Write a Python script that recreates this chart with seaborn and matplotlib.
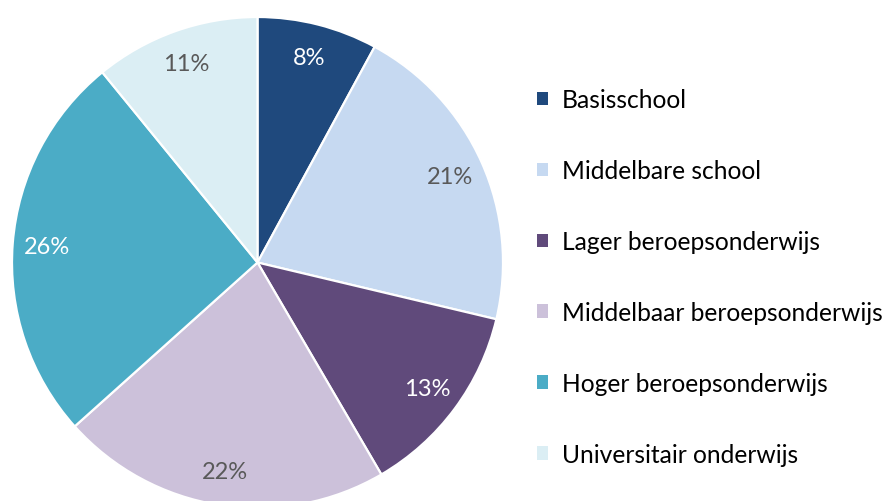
import numpy as np
import matplotlib
matplotlib.use("Agg")
import matplotlib.pyplot as plt
from matplotlib.patches import Patch
import seaborn as sns

# Education level shares (percent)
categories = [
    "Basisschool",
    "Middelbare school",
    "Lager beroepsonderwijs",
    "Middelbaar beroepsonderwijs",
    "Hoger beroepsonderwijs",
    "Universitair onderwijs",
]
shares = [8, 21, 13, 22, 26, 11]

colors = ["#1F497D", "#C6D9F1", "#604A7B", "#CCC1DA", "#4BACC6", "#DBEEF4"]
label_colors = ["white", "#595959", "white", "#595959", "white", "#595959"]

sns.set_theme(style="white")
plt.rcParams["font.family"] = ["Lato", "DejaVu Sans"]

W, H = 890, 502
fig = plt.figure(figsize=(W / 100, H / 100), dpi=100)
fig.patch.set_facecolor("white")

# Pie axes: square box in pixel space
cx, cy, r = 257.5, 263.5, 245.5
ax = fig.add_axes([(cx - r) / W, (H - cy - r) / H, 2 * r / W, 2 * r / H])
wedges, _ = ax.pie(
    shares,
    colors=colors,
    startangle=90,
    counterclock=False,
    radius=1.0,
    wedgeprops=dict(edgecolor="white", linewidth=1.6),
)
ax.set_xlim(-1, 1)
ax.set_ylim(-1, 1)
ax.set_aspect("equal")
ax.axis("off")

# Percentage labels inside each wedge
for w, v, tc in zip(wedges, shares, label_colors):
    mid = np.deg2rad((w.theta1 + w.theta2) / 2)
    d = 0.86
    ax.text(d * np.cos(mid), d * np.sin(mid), f"{v}%", ha="center", va="center",
            fontsize=17, color=tc)

handles = [Patch(facecolor=c, edgecolor="none") for c in colors]
fig.legend(
    handles, categories,
    loc="upper left",
    bbox_to_anchor=(537 / W, 1 - 89 / H),
    frameon=False,
    fontsize=17.7,
    handlelength=0.45,
    handleheight=0.45,
    handletextpad=0.55,
    labelspacing=1.95,
    borderaxespad=0,
    borderpad=0,
    labelcolor="#000000",
)

fig.savefig("out.png", dpi=100, facecolor="white")
